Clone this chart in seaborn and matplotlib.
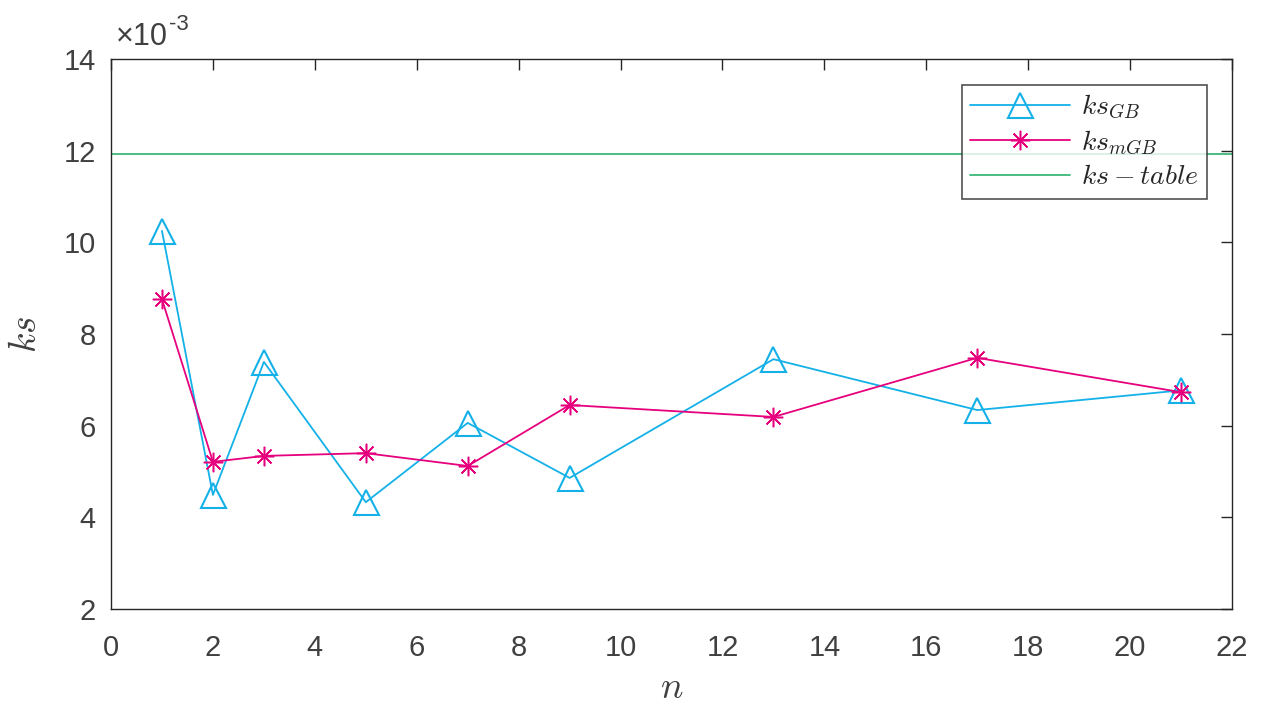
import numpy as np
import pandas as pd
import matplotlib
matplotlib.use('Agg')
import matplotlib.pyplot as plt
import seaborn as sns

# data (values in units of 1e-3)
n = [1, 2, 3, 5, 7, 9, 13, 17, 21]
ks_gb = [10.25, 4.49, 7.39, 4.33, 6.06, 4.86, 7.45, 6.34, 6.77]
ks_mgb = [8.76, 5.21, 5.34, 5.40, 5.12, 6.45, 6.19, 7.48, 6.73]
ks_table = 11.92

sns.set_theme(style='white')
plt.rcParams['font.family'] = ['Liberation Sans', 'DejaVu Sans']
plt.rcParams['mathtext.fontset'] = 'cm'

c_gb = '#13b1e8'
c_mgb = '#e6007e'
c_tab = '#3cb878'
axcol = '#262626'
txtcol = '#404040'

df = pd.DataFrame({'n': n, 'gb': ks_gb, 'mgb': ks_mgb})

fig = plt.figure(figsize=(12.63, 7.05), dpi=100)
ax = fig.add_axes([0.0879, 0.1362, 0.8876, 0.7801])

ax.axhline(ks_table, color=c_tab, lw=1.3, label=r'$ks-table$', zorder=1)
sns.lineplot(data=df, x='n', y='gb', ax=ax, color=c_gb, lw=1.3, marker='^',
             markersize=18, markerfacecolor='none', markeredgecolor=c_gb,
             markeredgewidth=1.5, label=r'$ks_{GB}$', zorder=3)
sns.lineplot(data=df, x='n', y='mgb', ax=ax, color=c_mgb, lw=1.3, marker=(8, 2, 0),
             markersize=14, markeredgecolor=c_mgb, markeredgewidth=1.1,
             label=r'$ks_{mGB}$', zorder=4)

ax.set_xlim(0, 22)
ax.set_ylim(2, 14)
ax.set_xticks(range(0, 23, 2))
ax.set_yticks(range(2, 15, 2))
ax.tick_params(direction='in', length=8, width=1, colors=axcol, labelcolor=txtcol,
               labelsize=21, top=True, right=True)
ax.tick_params(axis='x', pad=18)
ax.tick_params(axis='y', pad=11)
for s in ax.spines.values():
    s.set_color(axcol)
    s.set_linewidth(1)

ax.set_xlabel(r'$n$', fontsize=27, color=txtcol, labelpad=6)
ax.set_ylabel(r'$ks$', fontsize=27, color=txtcol, labelpad=14)

# exponent label
t1 = ax.text(0.004, 1.013, '\u00d710', transform=ax.transAxes,
             fontsize=22, color=txtcol, va='bottom', ha='left')
fig.canvas.draw()
bb = t1.get_window_extent().transformed(ax.transAxes.inverted())
ax.text(bb.x1 + 0.001, bb.y1 - 0.005, '-3', transform=ax.transAxes,
        fontsize=16, color=txtcol, va='center', ha='left')

h, l = ax.get_legend_handles_labels()
order = [l.index(r'$ks_{GB}$'), l.index(r'$ks_{mGB}$'), l.index(r'$ks-table$')]
leg = ax.legend([h[i] for i in order], [l[i] for i in order], loc='upper right',
                bbox_to_anchor=(0.9777, 0.9527), fontsize=20, frameon=True,
                fancybox=False, edgecolor=axcol, handlelength=3.6,
                borderpad=0.3, labelspacing=0.27, handletextpad=0.4,
                borderaxespad=0)
leg.get_frame().set_linewidth(1.2)

fig.savefig('out.png', dpi=100)
